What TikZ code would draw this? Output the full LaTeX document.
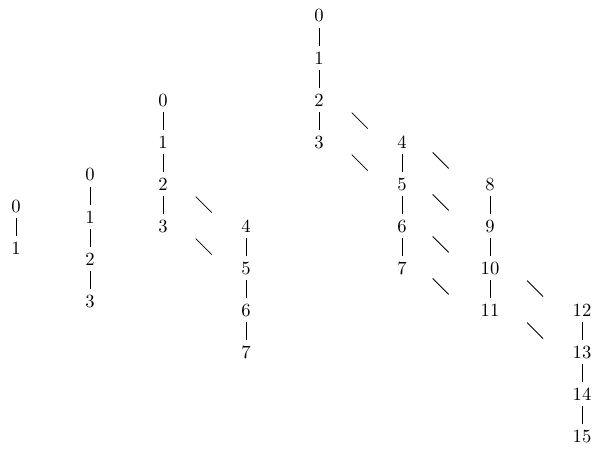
\documentclass[tikz,border=0pt]{standalone}
\usetikzlibrary{calc}
\begin{document}
\begin{tikzpicture}[x=0.5376pt,y=-0.5376pt,
  num/.style={inner sep=0pt, font=\normalsize},
  vbar/.style={line width=0.4pt},
  diag/.style={line width=0.4pt}]
\useasboundingbox (0,0) rectangle (592,450);
% diagram 1
\node[num] (a0) at (16,206) {0};
\node[num] (a1) at (16,248) {1};
\draw[vbar] ($(a0)!0.5!(a1)$) +(0,-9) -- +(0,9);
% diagram 2
\foreach \i/\y in {0/175,1/217,2/259,3/301}
  \node[num] (b\i) at (90,\y) {\i};
\foreach \i/\j in {0/1,1/2,2/3}
  \draw[vbar] ($(b\i)!0.5!(b\j)$) +(0,-9) -- +(0,9);
% diagram 3
\foreach \i/\y in {0/100,1/142,2/184,3/226}
  \node[num] (c\i) at (163,\y) {\i};
\foreach \i/\y in {4/226,5/268,6/310,7/352}
  \node[num] (c\i) at (246,\y) {\i};
\foreach \i/\j in {0/1,1/2,2/3,4/5,5/6,6/7}
  \draw[vbar] ($(c\i)!0.5!(c\j)$) +(0,-9) -- +(0,9);
\foreach \i/\j in {2/4,3/5}
  \draw[diag] ($(c\i)!0.49!(c\j)$) +(-8,-8) -- +(8,8);
% diagram 4
\foreach \i/\y in {0/16,1/58,2/100,3/142}
  \node[num] (d\i) at (319,\y) {\i};
\foreach \i/\y in {4/142,5/184,6/226,7/268}
  \node[num] (d\i) at (402,\y) {\i};
\foreach \i/\y in {8/184,9/226,10/268,11/310}
  \node[num] (d\i) at (490,\y) {\i};
\foreach \i/\y in {12/310,13/352,14/394,15/436}
  \node[num] (d\i) at (582,\y) {\i};
\foreach \i/\j in {0/1,1/2,2/3,4/5,5/6,6/7,8/9,9/10,10/11,12/13,13/14,14/15}
  \draw[vbar] ($(d\i)!0.5!(d\j)$) +(0,-9) -- +(0,9);
\foreach \i/\j/\f in {2/4/0.49,3/5/0.49,4/8/0.44,5/9/0.44,6/10/0.44,7/11/0.44,10/12/0.49,11/13/0.49}
  \draw[diag] ($(d\i)!\f!(d\j)$) +(-8,-8) -- +(8,8);
\end{tikzpicture}
\end{document}
